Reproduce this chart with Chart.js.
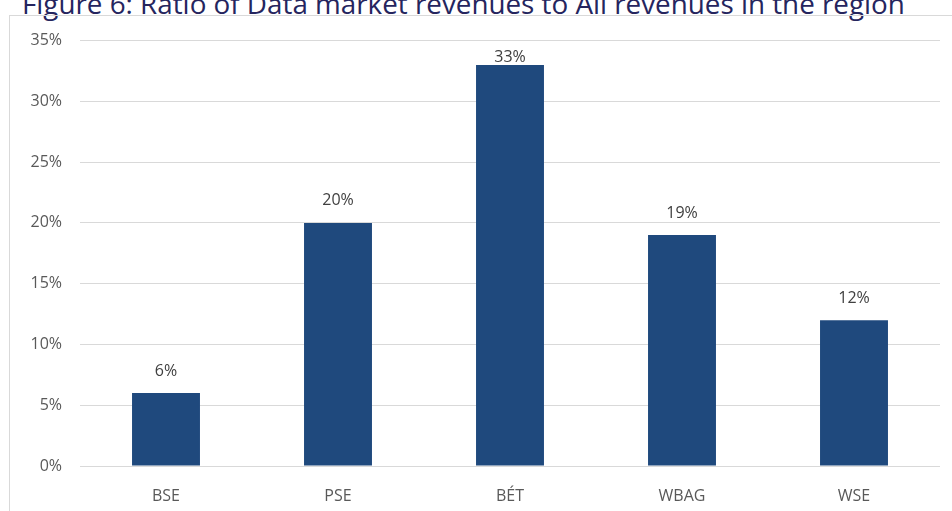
<!DOCTYPE html>
<html>
<head>
<meta charset="utf-8">
<script src="https://cdn.jsdelivr.net/npm/chart.js@4"></script>
<style>
  body { margin: 0; width: 952px; height: 511px; overflow: hidden; background: #fff; position: relative; }
  #title { position: absolute; left: 22px; top: -16px; font: 27.8px "Open Sans", sans-serif; color: #25255e; white-space: nowrap; }
  #frame { position: absolute; left: 9px; top: 15px; width: 960px; height: 520px; border-left: 1px solid #d9d9d9; border-top: 1px solid #d9d9d9; }
  #box { position: absolute; left: 10px; top: 13px; width: 942px; height: 498px; }
</style>
</head>
<body>
<div id="title">Figure 6: Ratio of Data market revenues to All revenues in the region</div>
<div id="frame"></div>
<div id="box"><canvas id="chart"></canvas></div>
<script>
const categories = ['BSE', 'PSE', 'BÉT', 'WBAG', 'WSE'];
const ratios = [6, 20, 33, 19, 12]; // percent
const yTicks = [0, 5, 10, 15, 20, 25, 30, 35];

// draws the "xx%" labels above each bar
const valueLabels = {
  id: 'valueLabels',
  afterDatasetsDraw(chart) {
    const ctx = chart.ctx;
    const meta = chart.getDatasetMeta(0);
    ctx.save();
    ctx.font = '16px "Open Sans", sans-serif';
    ctx.fillStyle = '#404040';
    ctx.textAlign = 'center';
    ctx.textBaseline = 'middle';
    meta.data.forEach((bar, i) => {
      let y = bar.y - 22;
      if (y < chart.chartArea.top + 17) y = chart.chartArea.top + 17;
      ctx.fillText(ratios[i] + '%', bar.x, y);
    });
    ctx.restore();
  }
};

new Chart(document.getElementById('chart'), {
  type: 'bar',
  data: {
    labels: categories,
    datasets: [{
      data: ratios,
      backgroundColor: '#1f497d',
      borderWidth: 0,
      barPercentage: 0.395,
      categoryPercentage: 1
    }]
  },
  options: {
    responsive: true,
    maintainAspectRatio: false,
    animation: false,
    layout: { padding: { top: 21, right: 12, left: 0, bottom: 0 } },
    plugins: { legend: { display: false }, tooltip: { enabled: false } },
    scales: {
      x: {
        grid: { display: false },
        border: { display: false },
        ticks: { color: '#595959', font: { family: 'Open Sans', size: 16 }, padding: 13 },
        afterFit(scale) { scale.height = 45; }
      },
      y: {
        min: 0,
        max: 35,
        afterBuildTicks(scale) { scale.ticks = yTicks.map(v => ({ value: v })); },
        grid: { color: '#d9d9d9', drawTicks: false },
        border: { display: false },
        ticks: {
          color: '#595959',
          font: { family: 'Open Sans', size: 16 },
          padding: 18,
          callback: v => v + '%'
        },
        afterFit(scale) { scale.width = 70; }
      }
    }
  },
  plugins: [valueLabels]
});
</script>
</body>
</html>
